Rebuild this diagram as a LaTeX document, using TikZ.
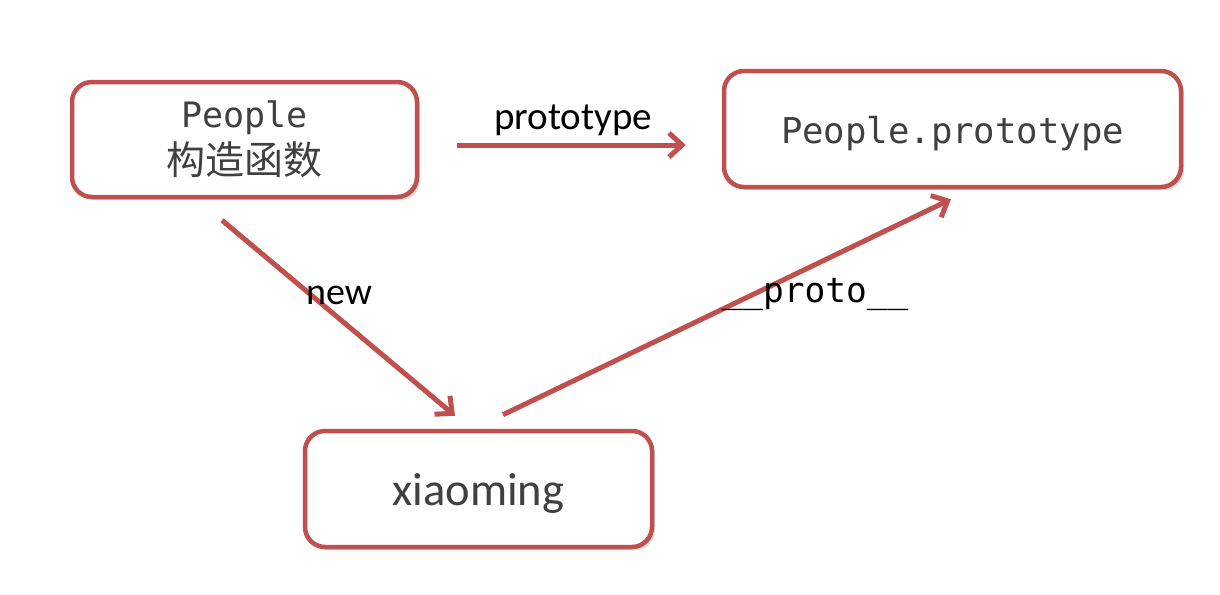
\documentclass[tikz,border=0pt]{standalone}
\usepackage{fontspec}
\setmainfont{Carlito}
\setmonofont{DejaVu Sans Mono}
\newfontfamily\cjk{Noto Sans CJK SC}
\usetikzlibrary{arrows.meta,shadows,calc}
\definecolor{boxred}{HTML}{C0504D}
\definecolor{txtgray}{HTML}{404040}
\begin{document}
\begin{tikzpicture}[x=1pt,y=-1pt,
  objbox/.style={draw=boxred, line width=4.5pt, rounded corners=20pt, fill=white,
    text=txtgray, align=center, inner sep=0pt,
    drop shadow={shadow xshift=3pt, shadow yshift=-3pt, opacity=0.25, fill=black!60}},
  arr/.style={draw=boxred, line width=5pt, -{Straight Barb[length=13pt,width=24pt]}},
  lbl/.style={text=black, inner sep=0pt, anchor=base}
]
\useasboundingbox[fill=white] (0,0) rectangle (1220,594);
\node[objbox, minimum width=345pt, minimum height=115pt] (ppl) at (244.5,139.5)
  {\fontsize{35}{47}\selectfont\ttfamily People\\[6pt]{\fontsize{39}{47}\selectfont\cjk 构造函数}};
\node[objbox, minimum width=457pt, minimum height=116pt, text height=36pt, text depth=8pt] (proto) at (952.5,129)
  {\fontsize{35.6}{40}\selectfont\ttfamily People.prototype};
\node[objbox, minimum width=347pt, minimum height=116pt, text height=42pt, text depth=10pt] (xm) at (478.5,489)
  {\fontsize{46.5}{50}\selectfont xiaoming};

\draw[arr] ($(ppl.east)+(38,5.5)$) -- ($(proto.west)+(-36,16)$);
\draw[arr] ($(ppl.south)+(-22.5,21)$) -- ($(xm.north)+(-23.5,-13)$);
\draw[arr] ($(xm.north)+(24.5,-14)$) -- ($(proto.south)+(-1.5,10)$);

\node[lbl] (lproto) at (573,129) {\fontsize{39}{40}\selectfont prototype};
\node[lbl] (lnew) at (339,304) {\fontsize{38}{40}\selectfont new};
\node[lbl] (l__) at (815,302) {\fontsize{34.5}{40}\selectfont\ttfamily \_\_proto\_\_};
\end{tikzpicture}
\end{document}
